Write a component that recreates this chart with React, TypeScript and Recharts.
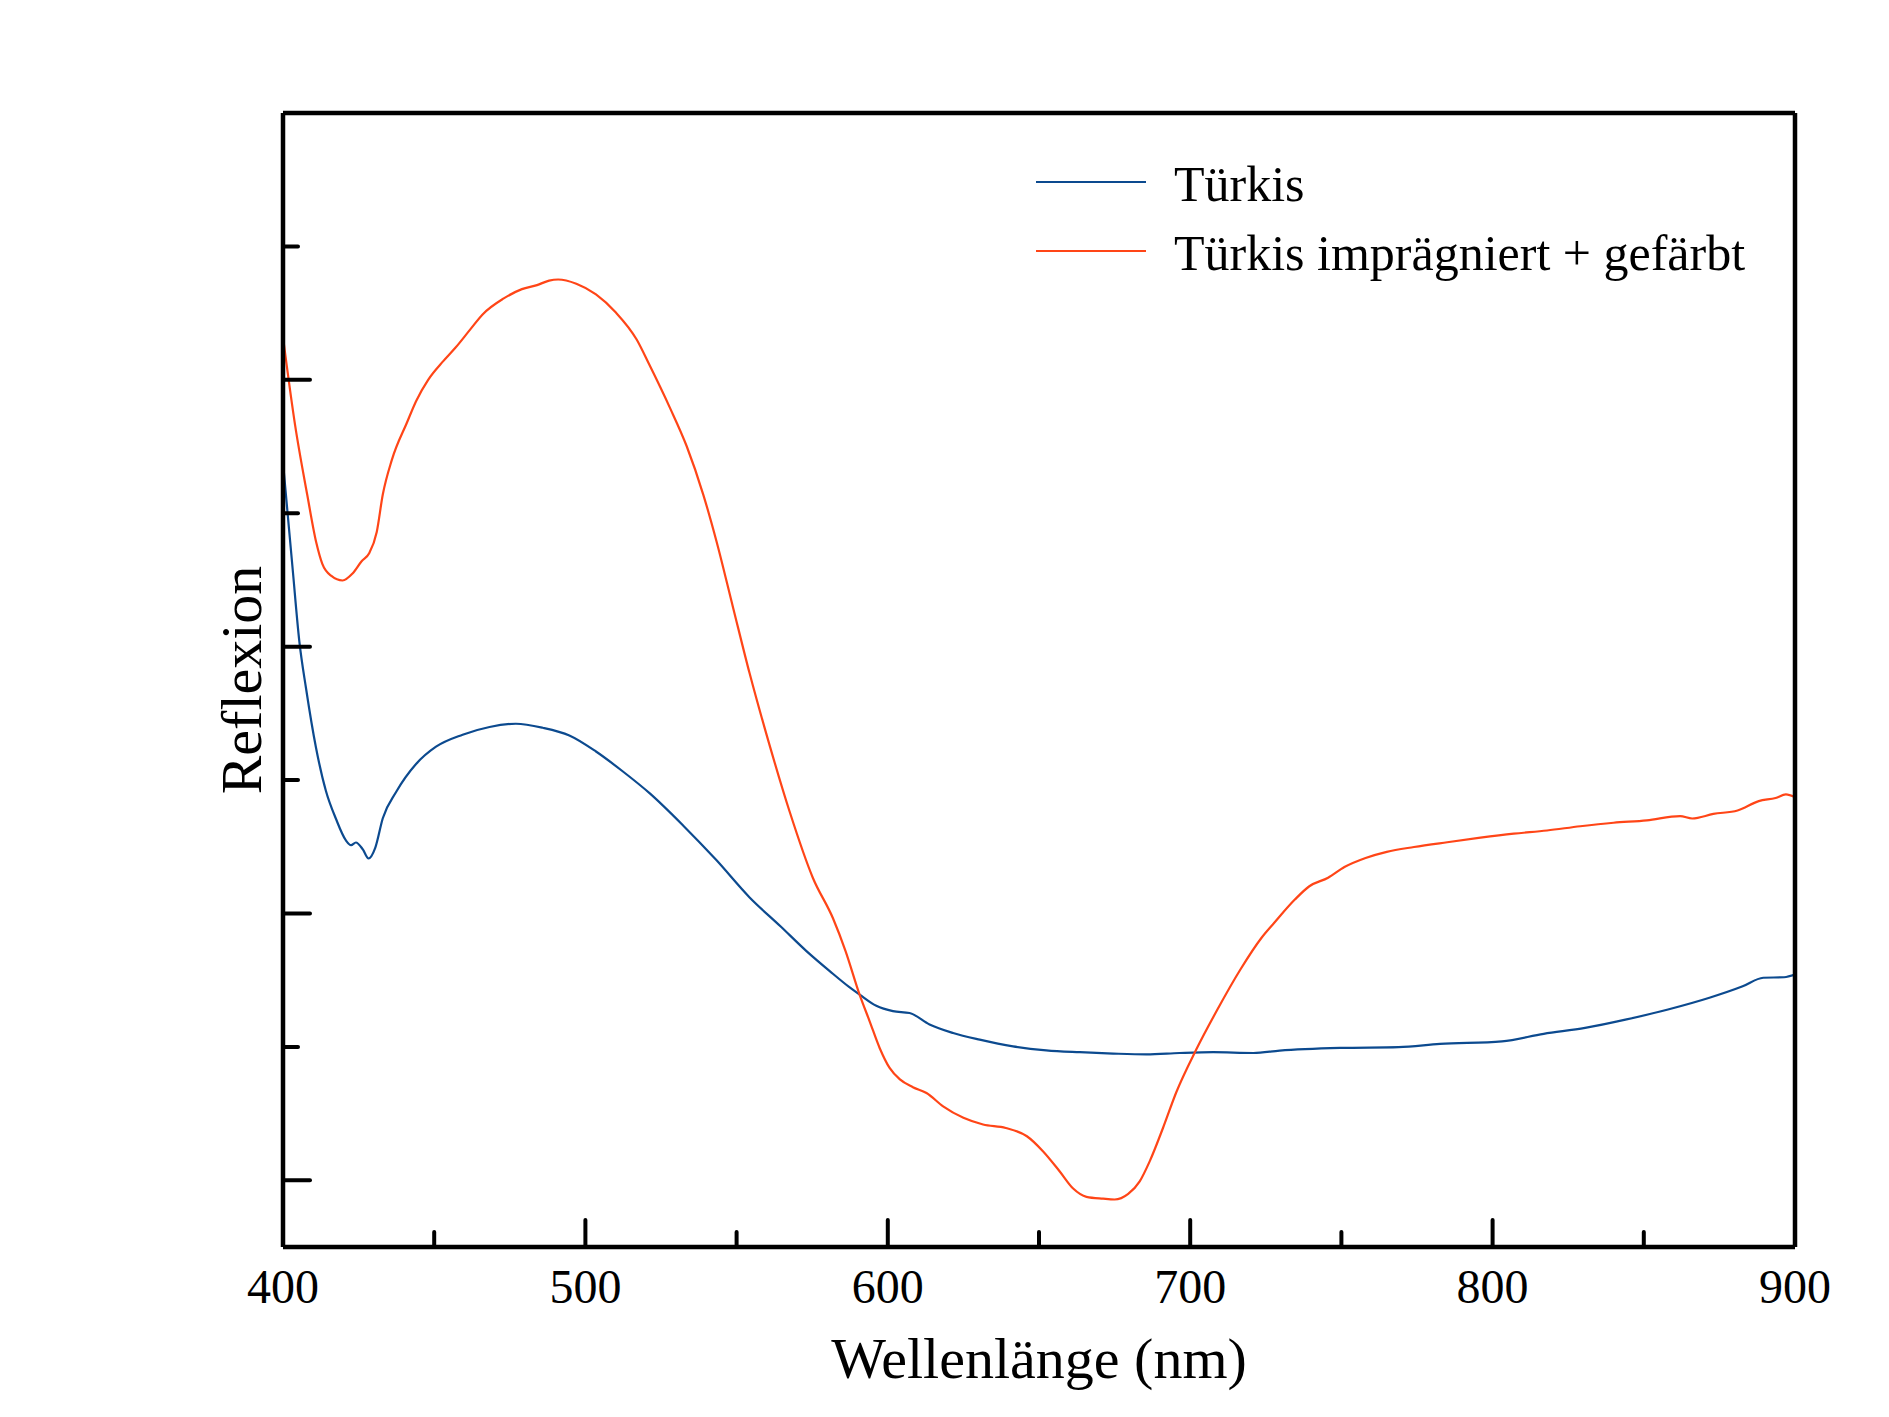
import { LineChart, Line, XAxis, YAxis, Legend } from "recharts";

// Reflexionsspektren, Wellenlänge (nm) gegen Reflexion (relative Einheiten)
const tuerkis: [number, number][] = [
  [400, 2.69], [403.2, 2.29], [405.4, 2.02], [407.6, 1.845], [410.9, 1.622],
  [414.2, 1.459], [417.5, 1.355], [420.8, 1.274], [422.5, 1.256], [424.1, 1.266],
  [426.4, 1.24], [428.3, 1.206], [430.5, 1.246], [433, 1.357], [437.4, 1.455],
  [444, 1.56], [450.6, 1.625], [459.4, 1.67], [468.3, 1.699], [477, 1.711],
  [485.9, 1.696], [494.7, 1.667], [503.5, 1.607], [512.3, 1.533], [521.3, 1.45],
  [532.3, 1.33], [543.3, 1.2], [554.3, 1.06], [564.5, 0.952], [573.1, 0.859],
  [580.8, 0.784], [587.4, 0.723], [590.7, 0.696], [596.2, 0.654], [601.7, 0.634],
  [607.2, 0.627], [613.8, 0.584], [621.6, 0.552], [630.4, 0.527], [641.4, 0.502],
  [652.4, 0.487], [663.5, 0.48], [674.5, 0.475], [685.5, 0.472], [696.5, 0.477],
  [707.6, 0.48], [720.9, 0.477], [729.6, 0.486], [749.7, 0.496], [768.9, 0.499],
  [782.6, 0.511], [803.1, 0.521], [816.9, 0.549], [830.6, 0.571], [844.3, 0.603],
  [858, 0.64], [871.7, 0.684], [882.7, 0.727], [889.5, 0.759], [896.4, 0.761],
  [900, 0.771],
];

const tuerkisImpraegniert: [number, number][] = [
  [400, 3.16], [404, 2.83], [408, 2.57], [411, 2.39], [413, 2.31],
  [416, 2.265], [419.7, 2.248], [423, 2.274], [426, 2.32], [428.5, 2.35],
  [431, 2.43], [433, 2.57], [436, 2.7], [441, 2.84], [444, 2.92],
  [448, 3.0], [453, 3.07], [457, 3.12], [462, 3.19], [466, 3.245],
  [473, 3.305], [479, 3.34], [484, 3.355], [488, 3.372], [491, 3.376],
  [497, 3.36], [503.5, 3.32], [510, 3.253], [517, 3.15], [521, 3.06],
  [528, 2.894], [533.5, 2.751], [539, 2.569], [543.3, 2.397], [548.8, 2.148],
  [554.3, 1.9], [560.9, 1.631], [567.5, 1.383], [575.2, 1.134], [581.9, 0.981],
  [586, 0.86], [590.7, 0.695], [594, 0.596], [597.3, 0.496], [600.6, 0.421],
  [604, 0.378], [608.3, 0.349], [612.8, 0.327], [618.3, 0.277], [625, 0.234],
  [631.5, 0.209], [639, 0.196], [646, 0.165], [651.3, 0.109], [656.8, 0.034],
  [661.3, -0.031], [665.7, -0.062], [671.2, -0.069], [675, -0.072], [679.5, -0.051],
  [683.3, -0.004], [686.6, 0.071], [691, 0.196], [695.4, 0.33], [702, 0.49],
  [709, 0.64], [716.6, 0.79], [723.6, 0.909], [727.8, 0.965], [734.6, 1.052],
  [739.4, 1.102], [745.6, 1.134], [751, 1.174], [758, 1.208], [765, 1.231],
  [774, 1.249], [785, 1.267], [796, 1.284], [807, 1.299], [818, 1.311],
  [829, 1.327], [840, 1.34], [851, 1.349], [862, 1.365], [866, 1.356],
  [873, 1.373], [881, 1.386], [888, 1.421], [893.6, 1.433], [897, 1.446],
  [900, 1.436],
];

const xTicks = [400, 450, 500, 550, 600, 650, 700, 750, 800, 850, 900];
const yTicks = [0, 0.5, 1, 1.5, 2, 2.5, 3, 3.5];

const BLUE = "#0c4a8f";
const RED = "#ff4517";
const FONT = '"Liberation Serif", "Times New Roman", serif';

const toRows = (pts: [number, number][]) => pts.map(([nm, v]) => ({ nm, v }));

function XTick(props: any) {
  const { x, y, payload } = props;
  const v = payload.value;
  const major = v % 100 === 0;
  const edge = v === 400 || v === 900;
  return (
    <g>
      {!edge && (
        <line x1={x} x2={x} y1={y} y2={y - (major ? 27 : 15)} stroke="#000" strokeWidth={4} strokeLinecap="round" />
      )}
      {major && (
        <text x={x} y={y + 56} textAnchor="middle" fontFamily={FONT} fontSize={48} fill="#000">
          {v}
        </text>
      )}
    </g>
  );
}

function YTick(props: any) {
  const { x, y, payload } = props;
  const major = Number.isInteger(payload.value);
  return <line x1={x} x2={x + (major ? 27 : 15)} y1={y} y2={y} stroke="#000" strokeWidth={4} strokeLinecap="round" />;
}

function XTitle(props: any) {
  const { x, y, width } = props.viewBox;
  return (
    <text x={x + width / 2} y={y + 131} textAnchor="middle" fontFamily={FONT} fontSize={58} fill="#000">
      Wellenlänge (nm)
    </text>
  );
}

function YTitle(props: any) {
  const { x, y, height } = props.viewBox;
  const cx = x - 21;
  const cy = y + height / 2;
  return (
    <text x={cx} y={cy} transform={`rotate(-90, ${cx}, ${cy})`} textAnchor="middle" fontFamily={FONT} fontSize={58} fill="#000">
      Reflexion
    </text>
  );
}

function LegendBox(props: any) {
  const items = props.payload || [];
  return (
    <svg width={760} height={150} style={{ display: "block" }}>
      {items.map((it: any, i: number) => (
        <g key={it.value}>
          <line x1={0} x2={110} y1={42 + i * 69} y2={42 + i * 69} stroke={it.color} strokeWidth={2.2} />
          <text x={138} y={61 + i * 69} fontFamily={FONT} fontSize={50} fill="#000">
            {it.value}
          </text>
        </g>
      ))}
    </svg>
  );
}

const frame = { stroke: "#000", strokeWidth: 4.5 };

export default function App() {
  return (
    <div style={{ position: "absolute", left: 0, top: 0, background: "#fff" }}>
      <LineChart width={1889} height={1417} margin={{ top: 112, right: 93, bottom: 169, left: 282 }}>
        <XAxis
          xAxisId={0}
          type="number"
          dataKey="nm"
          domain={[400, 900]}
          ticks={xTicks}
          interval={0}
          height={1}
          tickSize={0}
          tickMargin={0}
          tickLine={false}
          tick={XTick}
          axisLine={frame}
          allowDataOverflow
          label={XTitle}
        />
        <XAxis
          xAxisId="top"
          orientation="top"
          type="number"
          domain={[400, 900]}
          height={1}
          tick={false}
          tickLine={false}
          axisLine={frame}
        />
        <YAxis
          yAxisId={0}
          type="number"
          domain={[-0.25, 4]}
          ticks={yTicks}
          interval={0}
          width={1}
          tickSize={0}
          tickMargin={0}
          tickLine={false}
          tick={YTick}
          axisLine={frame}
          allowDataOverflow
          label={YTitle}
        />
        <YAxis
          yAxisId="right"
          orientation="right"
          type="number"
          domain={[-0.25, 4]}
          width={1}
          tick={false}
          tickLine={false}
          axisLine={frame}
        />
        <Legend
          layout="horizontal"
          verticalAlign="middle"
          align="center"
          content={LegendBox}
          wrapperStyle={{ position: "absolute", left: 1036, top: 140, width: 760, height: 150 }}
        />
        <Line
          data={toRows(tuerkis)}
          dataKey="v"
          name="Türkis"
          type="monotone"
          stroke={BLUE}
          strokeWidth={2.2}
          dot={false}
          activeDot={false}
          isAnimationActive={false}
        />
        <Line
          data={toRows(tuerkisImpraegniert)}
          dataKey="v"
          name="Türkis imprägniert + gefärbt"
          type="monotone"
          stroke={RED}
          strokeWidth={2.2}
          dot={false}
          activeDot={false}
          isAnimationActive={false}
        />
      </LineChart>
    </div>
  );
}
